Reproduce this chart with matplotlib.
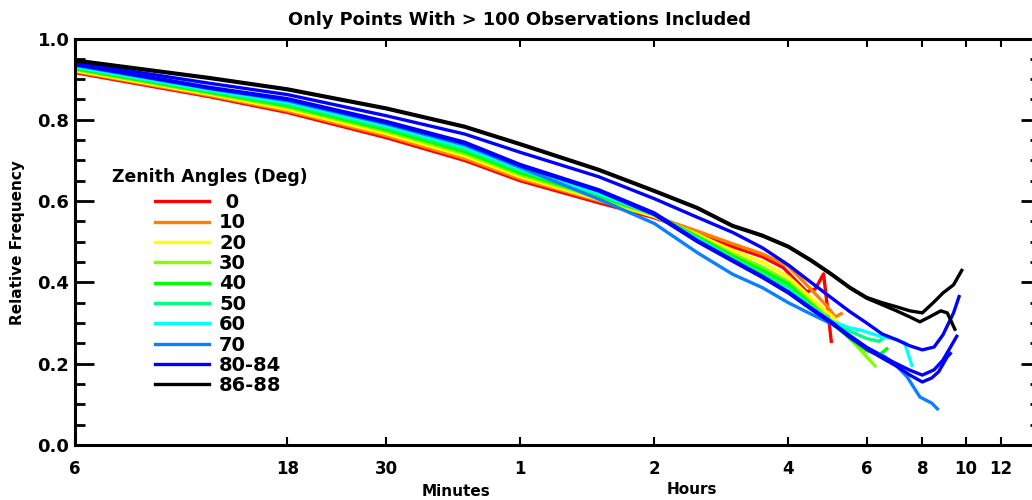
import matplotlib.pyplot as plt
from matplotlib.lines import Line2D
from matplotlib.ticker import FixedLocator, NullLocator

plt.rcParams['font.family'] = 'DejaVu Sans'
plt.rcParams['font.weight'] = 'bold'

# --- data (time in hours, relative frequency) ---
labels = [' 0', '10', '20', '30', '40', '50', '60', '70', '80-84', '86-88']
colors = ['#ff0000', '#ff8000', '#ffff00', '#80ff00', '#00ff00',
          '#00ff80', '#00ffff', '#0a80ff', '#0000ff', '#000000']

t_00 = [0.1, 0.2, 0.3, 0.5, 0.75, 1.0, 1.5, 2.0, 2.5, 3.0, 3.5, 3.9, 4.4, 4.6, 4.8, 5.0]
v_00 = [0.916, 0.857, 0.818, 0.756, 0.700, 0.650, 0.596, 0.559, 0.522, 0.488, 0.463, 0.436, 0.377, 0.384, 0.421, 0.251]

t_10 = [0.1, 0.2, 0.3, 0.5, 0.75, 1.0, 1.5, 2.0, 2.5, 3.0, 3.5, 4.0, 4.4, 4.9, 5.1, 5.3]
v_10 = [0.919, 0.860, 0.822, 0.761, 0.705, 0.655, 0.601, 0.563, 0.526, 0.495, 0.470, 0.440, 0.394, 0.340, 0.315, 0.325]

t_20 = [0.1, 0.2, 0.3, 0.5, 0.75, 1.0, 1.5, 2.0, 2.5, 3.0, 3.5, 4.0, 4.5, 5.0, 5.3]
v_20 = [0.921, 0.863, 0.826, 0.766, 0.711, 0.660, 0.604, 0.562, 0.518, 0.478, 0.450, 0.414, 0.362, 0.318, 0.290]

t_30 = [0.1, 0.2, 0.3, 0.5, 0.75, 1.0, 1.5, 2.0, 2.5, 3.0, 3.5, 4.0, 4.5, 5.0, 5.5, 6.0, 6.3]
v_30 = [0.924, 0.866, 0.831, 0.772, 0.717, 0.665, 0.608, 0.566, 0.515, 0.470, 0.438, 0.402, 0.352, 0.305, 0.262, 0.217, 0.192]

t_40 = [0.1, 0.2, 0.3, 0.5, 0.75, 1.0, 1.5, 2.0, 2.5, 3.0, 3.5, 4.0, 4.5, 5.0, 5.5, 6.0, 6.4, 6.7]
v_40 = [0.926, 0.868, 0.835, 0.776, 0.722, 0.670, 0.612, 0.568, 0.512, 0.465, 0.430, 0.396, 0.346, 0.302, 0.262, 0.232, 0.222, 0.239]

t_50 = [0.1, 0.2, 0.3, 0.5, 0.75, 1.0, 1.5, 2.0, 2.5, 3.0, 3.5, 4.0, 4.5, 5.0, 5.5, 6.0, 6.4, 6.6]
v_50 = [0.929, 0.871, 0.839, 0.781, 0.728, 0.675, 0.616, 0.569, 0.509, 0.460, 0.422, 0.388, 0.342, 0.305, 0.280, 0.262, 0.255, 0.268]

t_60 = [0.1, 0.2, 0.3, 0.5, 0.75, 1.0, 1.5, 2.0, 2.5, 3.0, 3.5, 4.0, 4.5, 5.0, 5.5, 5.8, 6.5, 7.0, 7.3, 7.6]
v_60 = [0.931, 0.874, 0.843, 0.786, 0.734, 0.680, 0.620, 0.566, 0.505, 0.455, 0.412, 0.378, 0.338, 0.305, 0.288, 0.283, 0.266, 0.260, 0.251, 0.192]

t_70 = [0.1, 0.2, 0.3, 0.5, 0.75, 1.0, 1.5, 2.0, 2.5, 3.0, 3.5, 4.0, 4.5, 5.0, 5.5, 6.0, 6.6, 7.0, 7.4, 7.9, 8.4, 8.7]
v_70 = [0.934, 0.877, 0.847, 0.790, 0.738, 0.683, 0.605, 0.545, 0.473, 0.420, 0.387, 0.350, 0.322, 0.298, 0.270, 0.240, 0.217, 0.195, 0.167, 0.118, 0.103, 0.086]

t_80 = [0.1, 0.2, 0.3, 0.5, 0.75, 1.0, 1.5, 2.0, 2.5, 3.0, 3.5, 4.0, 4.5, 5.0, 5.5, 6.0, 6.5, 7.0, 7.5, 8.0, 8.5, 8.9, 9.3, 9.6]
v_80 = [0.937, 0.880, 0.852, 0.796, 0.745, 0.690, 0.628, 0.571, 0.503, 0.455, 0.415, 0.377, 0.337, 0.303, 0.268, 0.240, 0.218, 0.200, 0.184, 0.172, 0.185, 0.209, 0.245, 0.271]

t_82 = [0.1, 0.2, 0.3, 0.5, 0.75, 1.0, 1.5, 2.0, 2.5, 3.0, 3.5, 4.0, 4.5, 5.0, 5.5, 6.0, 6.5, 7.0, 7.5, 8.0, 8.4, 8.7, 9.1, 9.3]
v_82 = [0.936, 0.878, 0.850, 0.793, 0.742, 0.687, 0.625, 0.567, 0.500, 0.452, 0.412, 0.374, 0.334, 0.300, 0.265, 0.236, 0.214, 0.194, 0.172, 0.155, 0.165, 0.180, 0.217, 0.228]

t_84 = [0.1, 0.2, 0.3, 0.5, 0.75, 1.0, 1.5, 2.0, 2.5, 3.0, 3.5, 4.0, 4.5, 5.0, 5.5, 6.0, 6.5, 7.0, 7.5, 8.0, 8.5, 8.9, 9.4, 9.7]
v_84 = [0.941, 0.890, 0.862, 0.810, 0.765, 0.720, 0.660, 0.606, 0.560, 0.523, 0.485, 0.443, 0.400, 0.362, 0.328, 0.300, 0.273, 0.259, 0.244, 0.234, 0.241, 0.271, 0.325, 0.369]

t_86 = [0.1, 0.2, 0.3, 0.5, 0.75, 1.0, 1.5, 2.0, 2.5, 3.0, 3.5, 4.0, 4.5, 5.0, 5.5, 6.0, 6.5, 7.0, 7.5, 8.0, 8.5, 8.9, 9.4, 9.85]
v_86 = [0.947, 0.904, 0.876, 0.829, 0.784, 0.741, 0.678, 0.626, 0.584, 0.540, 0.516, 0.489, 0.455, 0.421, 0.388, 0.363, 0.350, 0.340, 0.330, 0.325, 0.352, 0.374, 0.394, 0.433]

t_88 = [0.1, 0.2, 0.3, 0.5, 0.75, 1.0, 1.5, 2.0, 2.5, 3.0, 3.5, 4.0, 4.5, 5.0, 5.5, 6.0, 6.5, 7.0, 7.5, 7.9, 8.3, 8.8, 9.1, 9.5]
v_88 = [0.945, 0.902, 0.874, 0.827, 0.782, 0.739, 0.676, 0.624, 0.582, 0.538, 0.514, 0.487, 0.453, 0.419, 0.386, 0.361, 0.345, 0.330, 0.315, 0.303, 0.315, 0.330, 0.325, 0.281]

curves = [
    (t_00, v_00, colors[0]), (t_10, v_10, colors[1]), (t_20, v_20, colors[2]),
    (t_30, v_30, colors[3]), (t_40, v_40, colors[4]), (t_50, v_50, colors[5]),
    (t_60, v_60, colors[6]), (t_70, v_70, colors[7]),
    (t_80, v_80, colors[8]), (t_82, v_82, colors[8]), (t_84, v_84, colors[8]),
    (t_86, v_86, colors[9]), (t_88, v_88, colors[9]),
]

xticks = [0.1, 0.3, 0.5, 1, 2, 4, 6, 8, 10, 12]
xticklabels = ['6', '18', '30', '1', '2', '4', '6', '8', '10', '12']
yticks = [0.0, 0.2, 0.4, 0.6, 0.8, 1.0]

# --- figure ---
W, H = 1032, 500
fig = plt.figure(figsize=(W / 100, H / 100), dpi=100)
# right edge of the box falls just outside the canvas, as in the original
ax = fig.add_axes([75 / W, 55 / H, 965 / W, 406.5 / H])

for t, v, c in curves:
    ax.plot(t, v, color=c, lw=2.4, solid_joinstyle='round', solid_capstyle='butt')

ax.set_xscale('log')
ax.set_xlim(0.1, 14.7)
ax.set_ylim(0, 1.0)

ax.xaxis.set_major_locator(FixedLocator(xticks))
ax.xaxis.set_minor_locator(NullLocator())
ax.set_xticklabels(xticklabels)
ax.yaxis.set_major_locator(FixedLocator(yticks))
ax.yaxis.set_minor_locator(FixedLocator([i * 0.05 for i in range(21)]))
ax.set_yticklabels([f'{y:.1f}' for y in yticks])

ax.tick_params(axis='x', which='major', direction='in', length=6, width=1.5,
               top=True, bottom=True, pad=11, labelsize=12)
ax.tick_params(axis='y', which='major', direction='in', length=14, width=2,
               left=True, right=True, pad=4, labelsize=13)
ax.tick_params(axis='y', which='minor', direction='in', length=7, width=2,
               left=True, right=True)
for s in ax.spines.values():
    s.set_linewidth(2.2)

fig.text(519 / W, 1 - 20 / H, 'Only Points With > 100 Observations Included',
         ha='center', va='center', fontsize=12.8)
fig.text(18 / W, 1 - 243 / H, 'Relative Frequency', rotation=90,
         ha='center', va='center', fontsize=11)
fig.text(456 / W, 1 - 491 / H, 'Minutes', ha='center', va='center', fontsize=11)
fig.text(692 / W, 1 - 490 / H, 'Hours', ha='center', va='center', fontsize=11)

# legend
fig.text(112 / W, 1 - 177 / H, 'Zenith Angles (Deg)', ha='left', va='center', fontsize=12.4)
handles = [Line2D([], [], color=c, lw=2.4) for c in colors]
ax.legend(handles, labels, loc='upper left', bbox_to_anchor=(155 / W, 1 - 193 / H),
          bbox_transform=fig.transFigure, frameon=False, fontsize=14,
          handlelength=2.8, handletextpad=0.5, labelspacing=0.07,
          borderpad=0, borderaxespad=0)

fig.savefig('out.png', dpi=100)
